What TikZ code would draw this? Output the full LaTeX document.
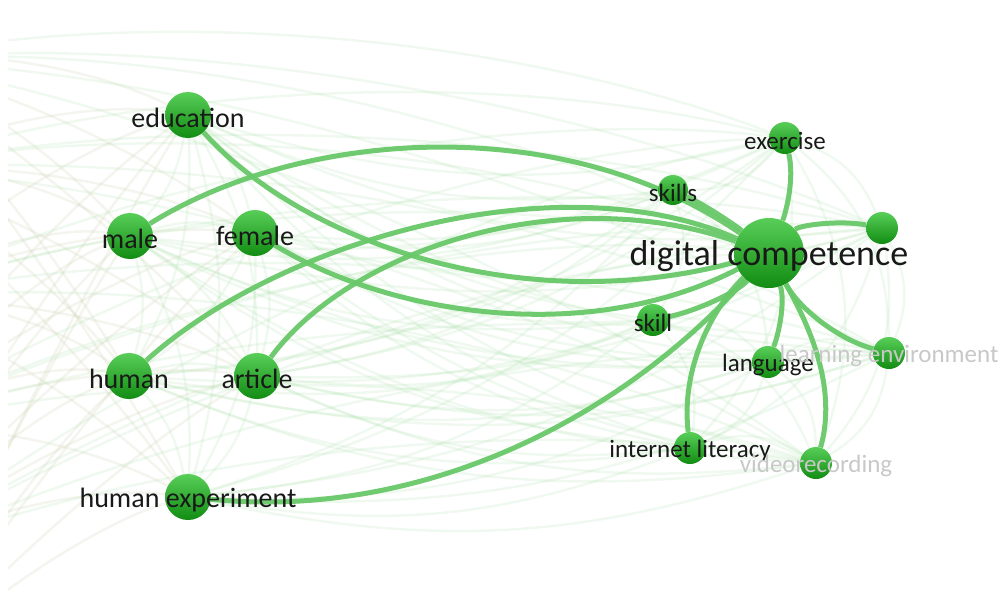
\documentclass[tikz,border=0pt]{standalone}
\usepackage{fontspec}
\setmainfont{Carlito}
\usetikzlibrary{backgrounds,calc}
\definecolor{balltop}{RGB}{88,206,88}
\definecolor{ballbot}{RGB}{18,140,18}
\definecolor{tiegreen}{RGB}{104,200,104}
\definecolor{hazegreen}{RGB}{150,215,150}
\definecolor{hazebeige}{RGB}{200,205,170}
\definecolor{fadedtxt}{RGB}{200,200,200}

\begin{document}
\begin{tikzpicture}[x=1pt,y=-1pt,
    kw/.style={circle,inner sep=0pt,minimum size=#1,top color=balltop,bottom color=ballbot},
    kw/.default=32pt,
    lbl/.style={inner sep=0pt,yshift=-3pt,text=black!90,font=\fontsize{25}{27}\selectfont},
    biglbl/.style={lbl,font=\fontsize{28}{30}\selectfont},
    faded/.style={lbl,text=fadedtxt},
    tie/.style={draw=tiegreen,line width=5pt,opacity=0.95},
    haze/.style={draw=hazegreen,line width=2.5pt,opacity=0.14},
    dust/.style={draw=hazebeige,line width=2.5pt,opacity=0.2}]
    \useasboundingbox (0,0) rectangle (1001,597);

    % keywords
    \node[kw=46pt] (edu) at (188,115) {};
    \node[kw=46pt] (male) at (130,236) {};
    \node[kw=46pt] (fem) at (255,233) {};
    \node[kw=46pt] (hum) at (129,376) {};
    \node[kw=46pt] (art) at (257,376) {};
    \node[kw=46pt] (hexp) at (188,497) {};
    \node[kw=70pt] (dc) at (769,253) {};
    \node[kw] (exer) at (785,138) {};
    \node[kw=30pt] (skls) at (673,190) {};
    \node[kw] (rnode) at (882,228) {};
    \node[kw] (skl) at (653,320) {};
    \node[kw] (lang) at (768,362) {};
    \node[kw] (lenv) at (889,353) {};
    \node[kw] (ilit) at (690,448) {};
    \node[kw] (vrec) at (816,463) {};

    % keywords outside the view
    \coordinate (w1) at (-120,60);
    \coordinate (w2) at (-120,170);
    \coordinate (w3) at (-120,300);
    \coordinate (w4) at (-120,430);
    \coordinate (w5) at (-120,560);
    \coordinate (w6) at (-100,680);

    \begin{scope}[on background layer]
        \clip (8,0) rectangle (1001,597);
        \foreach \a in {edu,male,fem,hum,art,hexp}
            \foreach \b in {exer,skls,rnode,skl,lang,lenv,ilit,vrec}
                \draw[haze] (\a) to[bend right=15] (\b);
        \foreach \a/\b in {edu/male,edu/fem,edu/hum,edu/art,edu/hexp,male/fem,male/hum,
            male/art,male/hexp,fem/hum,fem/art,fem/hexp,hum/art,hum/hexp,art/hexp}
            \draw[haze] (\a) to[bend left=15] (\b);
        \foreach \a/\b in {exer/skls,exer/rnode,exer/lenv,exer/vrec,skls/skl,skls/lang,
            rnode/lenv,rnode/vrec,skl/ilit,skl/lang,lang/lenv,lang/ilit,lang/vrec,
            lenv/vrec,ilit/vrec,skl/vrec,exer/ilit,rnode/ilit}
            \draw[haze] (\a) to[bend left=25] (\b);
        \foreach \w in {w1,w2,w3,w4,w5,w6}
            \foreach \a in {edu,male,fem,hum,art,hexp}
                \draw[dust] (\w) .. controls ($(\w)!0.3!(\a)+(0,-30)$) and ($(\w)!0.7!(\a)+(0,-30)$) .. (\a);
        \foreach \w in {w1,w2,w3,w4,w5}
            \foreach \b in {exer,rnode,lenv,vrec,dc}
                \draw[haze] (\w) .. controls ($(\w)!0.3!(\b)+(0,-80)$) and ($(\w)!0.7!(\b)+(0,-80)$) .. (\b);

        % strong links of digital competence
        \draw[tie] (edu) .. controls (300,240) and (520,320) .. (dc);
        \draw[tie] (male) .. controls (300,130) and (560,110) .. (dc);
        \draw[tie] (fem) .. controls (380,310) and (580,350) .. (dc);
        \draw[tie] (hum) .. controls (280,240) and (560,160) .. (dc);
        \draw[tie] (art) .. controls (350,250) and (560,180) .. (dc);
        \draw[tie] (hexp) .. controls (420,520) and (620,420) .. (dc);
        \draw[tie] (skls) .. controls (705,205) and (735,225) .. (dc);
        \draw[tie] (exer) .. controls (795,180) and (785,215) .. (dc);
        \draw[tie] (rnode) .. controls (840,220) and (800,225) .. (dc);
        \draw[tie] (skl) .. controls (700,310) and (740,290) .. (dc);
        \draw[tie] (lang) .. controls (780,330) and (785,300) .. (dc);
        \draw[tie] (lenv) .. controls (840,340) and (800,310) .. (dc);
        \draw[tie] (ilit) .. controls (680,360) and (720,300) .. (dc);
        \draw[tie] (vrec) .. controls (840,380) and (800,310) .. (dc);
    \end{scope}

    % labels
    \node[biglbl] (edu-l) at (edu) {education};
    \node[biglbl] (male-l) at (male) {male};
    \node[biglbl] (fem-l) at (fem) {female};
    \node[biglbl] (hum-l) at (hum) {human};
    \node[biglbl] (art-l) at (art) {article};
    \node[biglbl] (hexp-l) at (hexp) {human experiment};
    \node[lbl,font=\fontsize{36}{38}\selectfont] (dc-l) at (dc) {digital competence};
    \node[lbl] (exer-l) at (exer) {exercise};
    \node[lbl] (skls-l) at (skls) {skills};
    \node[lbl] (skl-l) at (skl) {skill};
    \node[lbl] (lang-l) at (lang) {language};
    \node[faded] (lenv-l) at (lenv) {learning environment};
    \node[lbl] (ilit-l) at (ilit) {internet literacy};
    \node[faded] (vrec-l) at (vrec) {videorecording};
\end{tikzpicture}
\end{document}
